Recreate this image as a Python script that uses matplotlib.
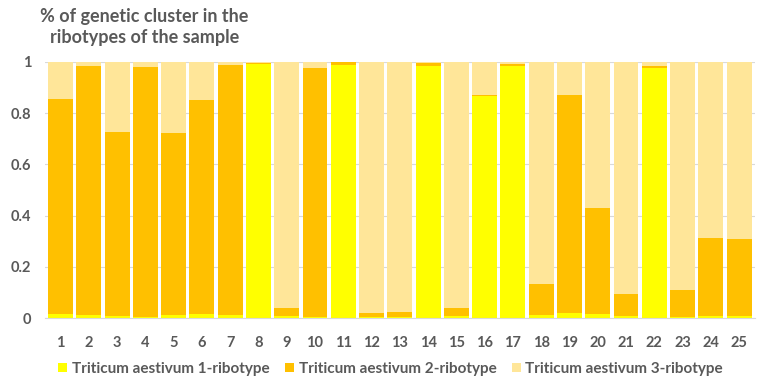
import matplotlib
matplotlib.use('Agg')
import matplotlib.pyplot as plt
import numpy as np

samples = [str(i) for i in range(1, 26)]
# share of each ribotype cluster per sample
ribotype1 = [0.017, 0.010, 0.008, 0.005, 0.010, 0.016, 0.010, 0.993, 0.008, 0.005,
             0.990, 0.005, 0.005, 0.985, 0.008, 0.868, 0.985, 0.012, 0.020, 0.017,
             0.007, 0.978, 0.005, 0.008, 0.008]
ribotype2 = [0.838, 0.975, 0.720, 0.975, 0.712, 0.836, 0.978, 0.004, 0.032, 0.973,
             0.008, 0.013, 0.017, 0.011, 0.030, 0.004, 0.008, 0.120, 0.850, 0.413,
             0.085, 0.005, 0.105, 0.305, 0.302]
ribotype3 = [1 - a - b for a, b in zip(ribotype1, ribotype2)]
series_names = ['Triticum aestivum 1-ribotype', 'Triticum aestivum 2-ribotype',
                'Triticum aestivum 3-ribotype']

colors = ['#FFFF00', '#FFC000', '#FFE699']
text_color = '#595959'
plt.rcParams['font.family'] = ['Lato', 'DejaVu Sans']

fig = plt.figure(figsize=(7.68, 3.85), dpi=100)
ax = fig.add_axes([0.0586, 0.174, 0.924, 0.665])

x = np.arange(len(samples))
bottom = np.zeros(len(samples))
for vals, col, name in zip([ribotype1, ribotype2, ribotype3], colors, series_names):
    ax.bar(x, vals, width=0.88, bottom=bottom, color=col, label=name, zorder=2)
    bottom += np.array(vals)

ax.set_xlim(-0.55, len(samples) - 0.45)
ax.set_ylim(0, 1.0)
ax.set_yticks([0, 0.2, 0.4, 0.6, 0.8, 1])
ax.set_yticklabels(['0', '0.2', '0.4', '0.6', '0.8', '1'])
ax.set_xticks(x)
ax.set_xticklabels(samples)
ax.yaxis.grid(True, color='#D9D9D9', linewidth=0.8, zorder=0)
for s in ['top', 'right', 'left']:
    ax.spines[s].set_visible(False)
ax.spines['bottom'].set_color('#D9D9D9')
ax.tick_params(axis='x', length=0, labelsize=10.5, labelcolor=text_color, pad=13)
ax.tick_params(axis='y', length=0, labelsize=10.5, labelcolor=text_color, pad=10)
for lab in ax.get_xticklabels() + ax.get_yticklabels():
    lab.set_fontweight('bold')

fig.text(0.188, 0.98, '% of genetic cluster in the\nribotypes of the sample',
         ha='center', va='top', fontsize=13, fontweight='bold',
         color=text_color, linespacing=1.3)

leg = fig.legend(loc='lower left', bbox_to_anchor=(0.058, -0.012), ncol=3, frameon=False,
                 handlelength=0.6, handleheight=0.6, handletextpad=0.3, columnspacing=1.0,
                 prop={'size': 11, 'weight': 'bold'})
for t in leg.get_texts():
    t.set_color(text_color)

fig.savefig('out.png', dpi=100)
